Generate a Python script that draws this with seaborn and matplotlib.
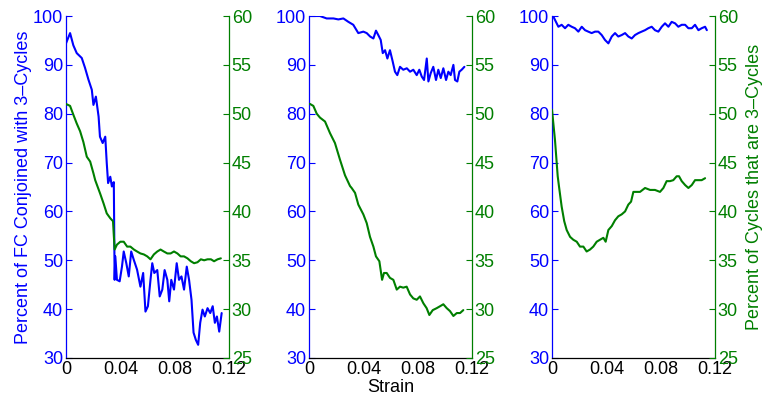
import matplotlib
matplotlib.use("Agg")
import matplotlib.pyplot as plt
import seaborn as sns

# Strain sample positions and series for each panel
# Panel 1
p1_fc_x = [0.0, 0.003, 0.0054, 0.0079, 0.0116, 0.014, 0.0165, 0.019, 0.0202, 0.022,
           0.024, 0.025, 0.027, 0.0289, 0.030, 0.031, 0.0326, 0.0338, 0.0352, 0.0358,
           0.0363, 0.0375, 0.0395, 0.0412, 0.0425, 0.0444, 0.0462, 0.048, 0.0499, 0.0523,
           0.0548, 0.0568, 0.0585, 0.0603, 0.0622, 0.0635, 0.065, 0.0672, 0.069, 0.0709,
           0.0726, 0.0746, 0.076, 0.0775, 0.0795, 0.0815, 0.0832, 0.085, 0.0869, 0.0889,
           0.0906, 0.0924, 0.0939, 0.0956, 0.0973, 0.0988, 0.1005, 0.1022, 0.1042, 0.1062,
           0.108, 0.1096, 0.1111, 0.1128, 0.1146]
p1_fc_y = [94.4, 96.5, 94.0, 92.4, 91.4, 89.4, 87.0, 84.9, 81.8, 83.5,
           79.4, 75.3, 74.0, 75.3, 69.9, 65.8, 67.1, 65.1, 66.0, 46.0,
           50.8, 46.0, 45.7, 48.7, 51.8, 49.4, 46.7, 51.8, 50.1, 48.1,
           44.6, 47.4, 39.5, 40.6, 46.0, 49.4, 47.4, 48.0, 42.6, 44.0,
           48.0, 46.0, 41.6, 46.0, 44.0, 49.4, 46.0, 46.7, 44.0, 48.7,
           46.0, 41.9, 35.2, 33.7, 32.7, 37.2, 39.9, 38.5, 40.2, 39.2,
           40.6, 37.2, 38.5, 35.4, 39.2]
p1_cyc_x = [0.0, 0.003, 0.0054, 0.0079, 0.0104, 0.0128, 0.0153, 0.0178, 0.0202, 0.0215,
            0.0252, 0.0277, 0.030, 0.0326, 0.0346, 0.0358, 0.0375, 0.040, 0.0425, 0.045,
            0.0474, 0.050, 0.0523, 0.0548, 0.0573, 0.0598, 0.0622, 0.0647, 0.0672, 0.0696,
            0.072, 0.0746, 0.077, 0.0795, 0.082, 0.0844, 0.0869, 0.0894, 0.0919, 0.0943,
            0.0968, 0.0993, 0.1017, 0.1042, 0.1067, 0.109, 0.1116, 0.114]
p1_cyc_y = [51.0, 50.8, 49.9, 49.0, 48.2, 47.1, 45.6, 45.1, 43.9, 43.2,
            41.8, 40.8, 39.8, 39.3, 39.0, 36.1, 36.6, 36.9, 36.9, 36.4,
            36.4, 36.1, 35.9, 35.7, 35.6, 35.4, 35.1, 35.6, 35.9, 36.1,
            35.9, 35.7, 35.7, 35.9, 35.7, 35.4, 35.4, 35.2, 34.9, 34.7,
            34.8, 35.1, 35.0, 35.1, 35.1, 34.9, 35.1, 35.2]

# Panel 2
p2_fc_x = [0.0, 0.008, 0.013, 0.018, 0.0216, 0.0253, 0.029, 0.0326, 0.0363, 0.040,
           0.0425, 0.045, 0.0474, 0.0493, 0.051, 0.0528, 0.0543, 0.056, 0.0577, 0.0596,
           0.0616, 0.0633, 0.065, 0.067, 0.0694, 0.072, 0.0744, 0.0768, 0.0793, 0.0812,
           0.083, 0.0847, 0.0867, 0.0879, 0.0896, 0.0915, 0.0935, 0.0952, 0.097, 0.0989,
           0.1009, 0.1026, 0.1043, 0.1063, 0.1075, 0.1092, 0.1107, 0.1124, 0.1144]
p2_fc_y = [100.0, 100.0, 99.5, 99.5, 99.3, 99.5, 98.8, 98.2, 96.5, 96.8,
           96.5, 95.8, 95.4, 97.0, 96.1, 95.1, 92.4, 93.0, 91.3, 93.0,
           90.7, 88.6, 87.9, 89.6, 89.0, 89.3, 88.6, 89.0, 87.9, 89.0,
           87.6, 86.9, 91.3, 86.6, 88.3, 89.6, 86.9, 89.0, 87.3, 89.3,
           86.9, 88.6, 87.9, 90.0, 86.9, 86.6, 88.6, 89.0, 89.6]
p2_cyc_x = [0.0007, 0.0032, 0.0057, 0.0081, 0.0118, 0.0155, 0.0191, 0.0228, 0.0265, 0.0302,
            0.0314, 0.0339, 0.0363, 0.040, 0.0425, 0.0449, 0.0474, 0.0493, 0.0518, 0.0538,
            0.0552, 0.0572, 0.0596, 0.0621, 0.0646, 0.067, 0.0694, 0.0719, 0.0744, 0.0768,
            0.0793, 0.0817, 0.0842, 0.0866, 0.0886, 0.0911, 0.094, 0.0965, 0.0989, 0.1014,
            0.1038, 0.1063, 0.1088, 0.1112, 0.1136]
p2_cyc_y = [51.0, 50.8, 50.0, 49.6, 49.2, 48.0, 47.0, 45.3, 43.7, 42.6,
            42.4, 41.9, 40.7, 39.7, 38.8, 37.4, 36.4, 35.4, 34.9, 33.0,
            33.7, 33.7, 33.2, 33.0, 32.0, 32.3, 32.2, 32.3, 31.5, 31.1,
            30.96, 31.3, 30.6, 30.1, 29.4, 29.9, 30.1, 30.3, 30.5, 30.1,
            29.8, 29.3, 29.6, 29.6, 29.9]

# Panel 3
p3_fc_x = [0.001, 0.0022, 0.0047, 0.0071, 0.0096, 0.012, 0.0145, 0.0169, 0.0194, 0.0219,
           0.0243, 0.0267, 0.0292, 0.0317, 0.0341, 0.0366, 0.039, 0.0415, 0.044, 0.0464,
           0.0488, 0.0513, 0.0538, 0.0562, 0.0587, 0.0611, 0.0636, 0.066, 0.0685, 0.0709,
           0.0734, 0.0758, 0.0783, 0.0808, 0.0832, 0.0857, 0.0881, 0.0906, 0.093, 0.0955,
           0.098, 0.1004, 0.1029, 0.1053, 0.1078, 0.1102, 0.1127, 0.114]
p3_fc_y = [99.9, 99.2, 97.8, 98.2, 97.5, 98.2, 97.8, 97.5, 96.8, 97.8,
           97.1, 96.8, 96.5, 96.8, 96.8, 96.1, 95.1, 94.4, 95.8, 96.5,
           95.8, 96.1, 96.5, 95.8, 95.4, 96.1, 96.5, 96.8, 97.1, 97.5,
           97.8, 97.1, 96.8, 97.8, 98.5, 97.8, 98.8, 98.5, 97.8, 98.2,
           98.2, 97.5, 97.5, 98.2, 97.1, 97.5, 97.8, 97.1]
p3_cyc_x = [0.0, 0.0022, 0.0042, 0.0052, 0.0071, 0.009, 0.0108, 0.0133, 0.0157, 0.0182,
            0.0206, 0.0231, 0.0255, 0.028, 0.0304, 0.0329, 0.0353, 0.0378, 0.0395, 0.0415,
            0.044, 0.0464, 0.0488, 0.0513, 0.0538, 0.0562, 0.0582, 0.0599, 0.0624, 0.0648,
            0.0685, 0.0722, 0.0758, 0.0795, 0.082, 0.0844, 0.0869, 0.0893, 0.0918, 0.0935,
            0.0955, 0.098, 0.1004, 0.1029, 0.1053, 0.1078, 0.1102, 0.1127]
p3_cyc_y = [50.4, 47.3, 43.6, 42.5, 40.5, 39.0, 38.1, 37.4, 37.1, 36.9,
            36.4, 36.4, 35.9, 36.1, 36.4, 36.9, 37.1, 37.3, 36.9, 38.1,
            38.5, 39.1, 39.5, 39.7, 40.0, 40.7, 41.0, 42.0, 42.0, 42.0,
            42.4, 42.2, 42.2, 42.0, 42.4, 43.1, 43.1, 43.2, 43.6, 43.6,
            43.1, 42.7, 42.4, 42.7, 43.2, 43.2, 43.2, 43.4]

x_ticks = [0, 0.04, 0.08, 0.12]
x_tick_labels = ["0", "0.04", "0.08", "0.12"]
left_ticks = [30, 40, 50, 60, 70, 80, 90, 100]
right_ticks = [25, 30, 35, 40, 45, 50, 55, 60]

BLUE = "#0000ff"
GREEN = "#007f00"

sns.set_style("white")
plt.rcParams["font.family"] = ["Liberation Sans", "DejaVu Sans"]
plt.rcParams["font.size"] = 12

fig = plt.figure(figsize=(7.64, 3.99), dpi=100)

panels = [
    (p1_fc_x, p1_fc_y, p1_cyc_x, p1_cyc_y, 66),
    (p2_fc_x, p2_fc_y, p2_cyc_x, p2_cyc_y, 309),
    (p3_fc_x, p3_fc_y, p3_cyc_x, p3_cyc_y, 552),
]

W, H = 764.0, 399.0
for i, (fx, fy, cx, cy, left_px) in enumerate(panels):
    ax = fig.add_axes([left_px / W, (H - 358) / H, 163 / W, 342 / H])
    ax2 = ax.twinx()

    sns.lineplot(x=fx, y=fy, ax=ax, color=BLUE, linewidth=1.5, estimator=None)
    sns.lineplot(x=cx, y=cy, ax=ax2, color=GREEN, linewidth=1.5, estimator=None)

    ax.set_xlim(0, 0.12)
    ax.set_ylim(30, 100)
    ax2.set_ylim(25, 60)
    ax.set_xticks(x_ticks)
    ax.set_xticklabels(x_tick_labels)
    ax.set_yticks(left_ticks)
    ax2.set_yticks(right_ticks)

    for a in (ax, ax2):
        a.spines["top"].set_visible(False)
        a.set_facecolor("none")
        a.grid(False)
    ax.spines["right"].set_visible(False)
    ax2.spines["left"].set_visible(False)
    ax2.spines["bottom"].set_visible(False)
    ax.spines["left"].set_color(BLUE)
    ax.spines["left"].set_linewidth(0.9)
    ax2.spines["right"].set_color(GREEN)
    ax2.spines["right"].set_linewidth(0.9)
    ax.spines["bottom"].set_color("black")
    ax.spines["bottom"].set_linewidth(0.9)

    ax.tick_params(axis="x", direction="in", length=4, width=0.8, colors="black",
                   labelsize=13, pad=2)
    ax.tick_params(axis="y", direction="in", length=4, width=0.8, colors=BLUE,
                   labelsize=13, pad=2)
    ax2.tick_params(axis="y", direction="in", length=4, width=0.8, colors=GREEN,
                    labelsize=13, pad=2)

    ax.set_xlabel("")
    ax.set_ylabel("")
    ax2.set_ylabel("")

    if i == 0:
        ax.set_ylabel("Percent of FC Conjoined with 3\u2013Cycles", color=BLUE,
                      fontsize=13, labelpad=1)
    if i == 1:
        ax.set_xlabel("Strain", color="black", fontsize=13, labelpad=1)
    if i == 2:
        ax2.set_ylabel("Percent of Cycles that are 3\u2013Cycles", color=GREEN,
                       fontsize=13, rotation=90, labelpad=6)

fig.savefig("out.png", dpi=100)
